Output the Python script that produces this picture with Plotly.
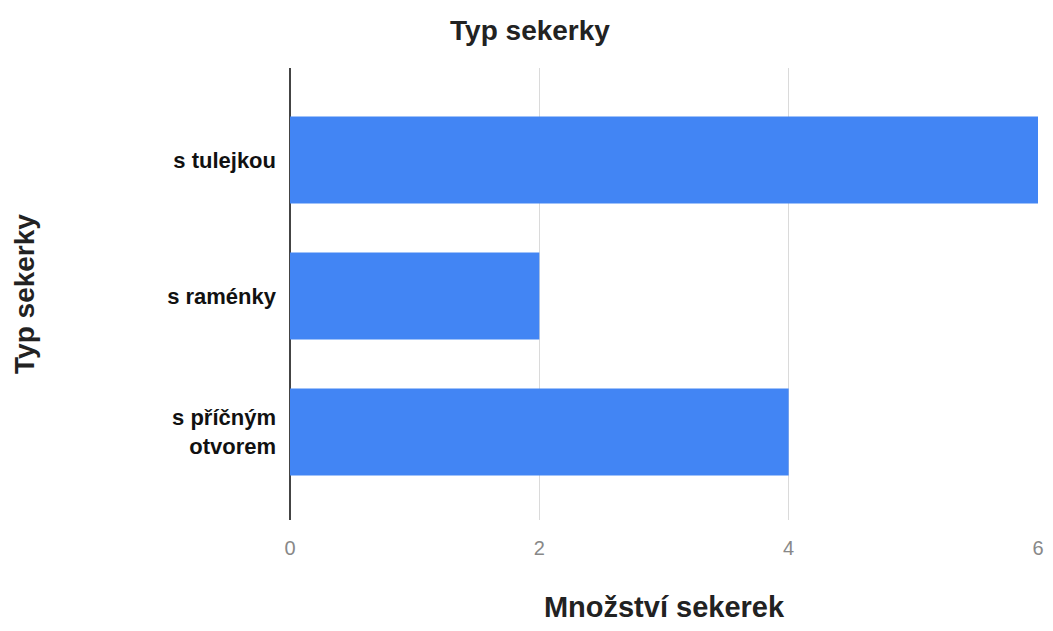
import plotly.graph_objects as go

categories = ["s tulejkou", "s raménky", "s příčným<br>otvorem"]
values = [6, 2, 4]
x_ticks = [0, 2, 4, 6]

fig = go.Figure(go.Bar(
    y=categories, x=values, orientation="h",
    marker=dict(color="#4285F4", line=dict(width=0)),
    width=0.64,
))

fig.update_layout(
    width=1037, height=615,
    paper_bgcolor="white", plot_bgcolor="white",
    margin=dict(l=282, r=7, t=60, b=103, autoexpand=False),
    font=dict(family="Liberation Sans, Arial, sans-serif"),
    title=dict(text="<b>Typ sekerky</b>", x=522 / 1037, xanchor="center", y=1 - 22 / 615, yanchor="middle",
               font=dict(size=28, color="#222222")),
    showlegend=False,
)
fig.update_xaxes(
    range=[0, 6], tickvals=x_ticks, ticktext=[str(v) for v in x_ticks],
    showgrid=True, gridcolor="#DADADA", gridwidth=1,
    zeroline=True, zerolinecolor="#444444", zerolinewidth=1.5,
    tickfont=dict(size=20, color="#888888"), ticks="", ticklabelstandoff=14,
    title=dict(text="<b>Množství sekerek</b>", font=dict(size=29, color="#222222"), standoff=50),
    automargin=False, showline=False,
)
fig.update_yaxes(
    categoryorder="array", categoryarray=categories,
    range=[2.647, -0.676],
    tickfont=dict(size=22, color="#111111", weight="bold"), ticks="", ticklabelstandoff=13,
    showgrid=False, showline=False,
    title=dict(text="<b>Typ sekerky</b>", font=dict(size=28, color="#222222"), standoff=124),
    automargin=False,
)
fig.write_html("out.html")
